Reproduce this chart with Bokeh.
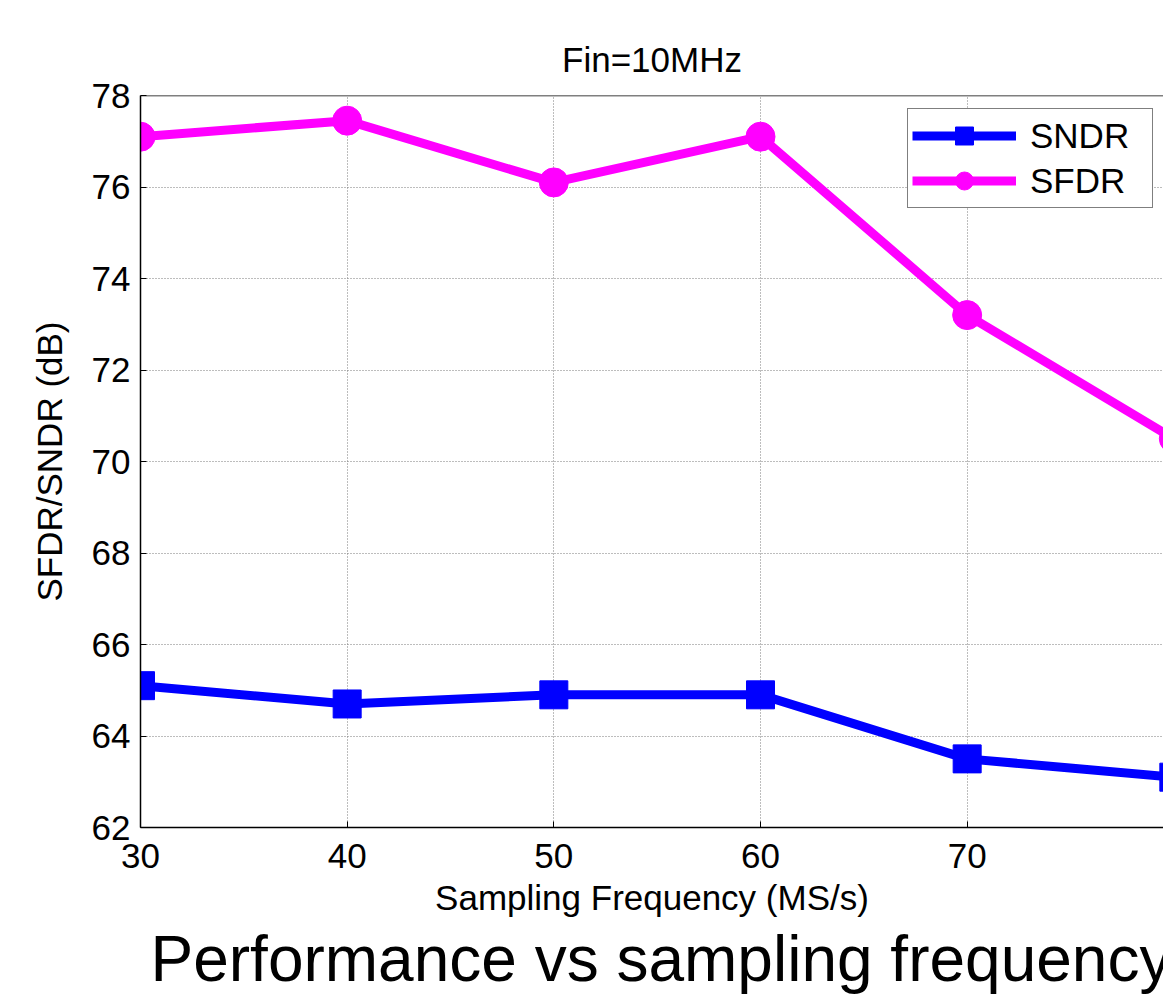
from bokeh.plotting import figure
from bokeh.models import Range1d, Span, Legend, LegendItem, FixedTicker, Title
from bokeh.embed import file_html
from bokeh.resources import INLINE

freq = [30, 40, 50, 60, 70, 80]
sndr = [65.1, 64.7, 64.9, 64.9, 63.5, 63.1]
sfdr = [77.1, 77.45, 76.1, 77.1, 73.2, 70.5]
x_ticks = [30, 40, 50, 60, 70, 80]
y_ticks = [62, 64, 66, 68, 70, 72, 74, 76, 78]

FONT = "Liberation Sans"
FS = "35px"

p = figure(width=1163, height=997, output_backend="svg", toolbar_location=None,
           x_range=Range1d(30, 79.5), y_range=Range1d(62, 78),
           min_border_left=140, min_border_right=0, min_border_top=95, min_border_bottom=170)

p.title.text = "Fin=10MHz"
p.title.align = "center"
p.title.offset = 6
p.title.text_font = FONT
p.title.text_font_size = FS
p.title.text_font_style = "normal"
p.title.text_color = "black"
p.title.standoff = 33

p.outline_line_color = None
p.background_fill_color = "white"
p.border_fill_color = "white"

for ax in (p.xaxis[0], p.yaxis[0]):
    ax.axis_line_color = "black"
    ax.axis_line_width = 1.5
    ax.major_tick_in = 6
    ax.major_tick_out = 0
    ax.major_tick_line_color = "black"
    ax.minor_tick_line_color = None
    ax.major_label_text_font = FONT
    ax.major_label_text_font_size = FS
    ax.major_label_text_color = "black"
    ax.axis_label_text_font = FONT
    ax.axis_label_text_font_size = FS
    ax.axis_label_text_font_style = "normal"
    ax.axis_label_text_color = "black"

p.xaxis[0].ticker = FixedTicker(ticks=x_ticks)
p.yaxis[0].ticker = FixedTicker(ticks=y_ticks)
p.xaxis[0].axis_label = "Sampling Frequency (MS/s)"
p.yaxis[0].axis_label = "SFDR/SNDR (dB)"
p.xaxis[0].major_label_standoff = 16
p.yaxis[0].major_label_standoff = 10
p.xaxis[0].axis_label_standoff = 7
p.yaxis[0].axis_label_standoff = 20

for g in (p.xgrid[0], p.ygrid[0]):
    g.grid_line_color = "#7a7a7a"
    g.grid_line_dash = "1 2"
    g.grid_line_width = 1
p.xgrid[0].ticker = FixedTicker(ticks=x_ticks)
p.ygrid[0].ticker = FixedTicker(ticks=y_ticks)

# top border of the box
p.add_layout(Span(location=78, dimension="width", line_color="black", line_width=1.5))

l1 = p.line(freq, sndr, line_color="#0000ff", line_width=9)
m1 = p.scatter(freq, sndr, marker="square", size=28, fill_color="#0000ff", line_color="#0000ff")
l2 = p.line(freq, sfdr, line_color="#ff00ff", line_width=9)
m2 = p.scatter(freq, sfdr, marker="circle", size=29, fill_color="#ff00ff", line_color="#ff00ff")

legend = Legend(items=[LegendItem(label="SNDR", renderers=[l1, m1]),
                       LegendItem(label="SFDR", renderers=[l2, m2])],
                location=(767, 619), orientation="vertical",
                border_line_color="black", border_line_width=1.5,
                background_fill_color="white", background_fill_alpha=1,
                label_text_font=FONT, label_text_font_size=FS, label_text_color="black",
                glyph_width=104, glyph_height=45, label_height=40, label_width=118,
                label_standoff=14, padding=4, spacing=0, margin=0)
p.add_layout(legend, "center")

# slide caption below the chart
p.add_layout(Title(text="Performance vs sampling frequency", text_font=FONT,
                   text_font_size="64px", text_font_style="normal", text_color="black",
                   align="left", offset=10, standoff=2), "below")

open("out.html", "w").write(file_html(p, INLINE))
